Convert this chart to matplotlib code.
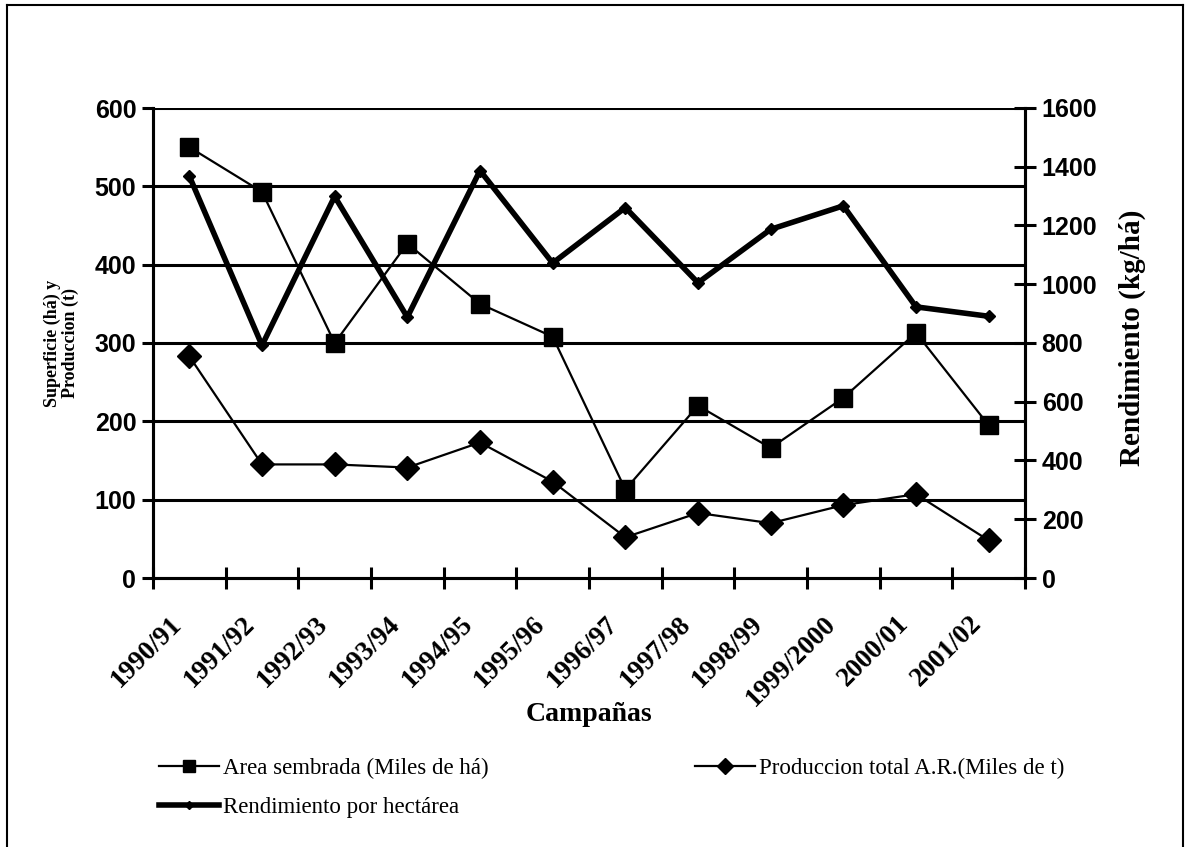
import matplotlib
matplotlib.use("Agg")
import matplotlib.pyplot as plt
from matplotlib.lines import Line2D
from matplotlib.transforms import ScaledTranslation

# campaigns and series
campanas = ["1990/91", "1991/92", "1992/93", "1993/94", "1994/95", "1995/96",
            "1996/97", "1997/98", "1998/99", "1999/2000", "2000/01", "2001/02"]
area = [550, 493, 300, 427, 350, 308, 113, 220, 166, 230, 313, 195]
produccion = [283, 145, 145, 141, 173, 123, 52, 83, 70, 93, 107, 48]
rendimiento = [1368, 792, 1299, 888, 1387, 1072, 1261, 1005, 1187, 1267, 923, 891]

left_ticks = [0, 100, 200, 300, 400, 500, 600]
right_ticks = [0, 200, 400, 600, 800, 1000, 1200, 1400, 1600]

sans = "Liberation Sans"
serif = "Liberation Serif"

fig = plt.figure(figsize=(11.86, 8.47), dpi=100)
ax = fig.add_axes([153/1186, 1-578/847, 872/1186, 470/847])
ax2 = ax.twinx()

x = list(range(len(campanas)))

# horizontal grid lines
for v in left_ticks[1:]:
    ax.axhline(v, color="black", lw=2.2, zorder=1)

l1, = ax.plot(x, area, color="black", lw=1.6, marker="s", markersize=13,
              markerfacecolor="black", zorder=3)
l2, = ax.plot(x, produccion, color="black", lw=1.6, marker="D", markersize=12,
              markerfacecolor="black", zorder=3)
l3, = ax2.plot(x, rendimiento, color="black", lw=4, marker="D", markersize=6,
               markerfacecolor="black", zorder=3)

ax.set_xlim(-0.5, len(campanas) - 0.5)
ax.set_ylim(0, 600)
ax2.set_ylim(0, 1600)

ax.set_xticks(x)
ax.set_xticklabels(campanas)
ax.tick_params(axis="x", length=0, pad=16)
ax.set_xticks([i - 0.5 for i in range(len(campanas) + 1)], minor=True)
ax.tick_params(axis="x", which="minor", direction="inout", length=16, width=2.2)

ax.set_yticks(left_ticks)
ax.tick_params(axis="y", direction="out", length=8, width=2.2, pad=4)
ax2.set_yticks(right_ticks)
ax2.tick_params(axis="y", direction="inout", length=16, width=2.2, pad=4)

for a in (ax, ax2):
    a.spines["top"].set_visible(False)
    for s in ("left", "right", "bottom"):
        a.spines[s].set_linewidth(2.2)

ax.set_xlabel("Campañas", fontfamily=serif, fontweight="bold", fontsize=20,
              labelpad=0)
ax.xaxis.set_label_coords(0.5, -0.264)
ax.set_ylabel("Superficie (há) y\nProduccion (t)", fontfamily=serif,
              fontweight="bold", fontsize=13, linespacing=1.05)
ax.yaxis.set_label_coords(-0.085, 0.5)
ax2.set_ylabel("Rendimiento (kg/há)", fontfamily=serif, fontweight="bold",
               fontsize=21)
ax2.yaxis.set_label_coords(1.107, 0.51)

# legend laid out row by row
fig.legend([l1, l3, l2],
           ["Area sembrada (Miles de há)", "Rendimiento por hectárea",
            "Produccion total A.R.(Miles de t)"],
           ncol=2, loc="upper left", bbox_to_anchor=(150/1186, 1-749/847),
           frameon=False, prop={"family": serif, "size": 16.5},
           handlelength=2.6, handletextpad=0.2, columnspacing=9.0,
           labelspacing=0.75, markerscale=0.7, borderaxespad=0)

# tick label fonts, set last so nothing resets them
shift = ScaledTranslation(-11/100, -20/100, fig.dpi_scale_trans)
for t in ax.get_xticklabels():
    t.set_fontfamily(serif)
    t.set_fontweight("bold")
    t.set_fontsize(19.5)
    t.set_rotation(45)
    t.set_ha("right")
    t.set_va("center")
    t.set_rotation_mode("anchor")
    t.set_transform(t.get_transform() + shift)
for t in ax.get_yticklabels() + ax2.get_yticklabels():
    t.set_fontfamily(sans)
    t.set_fontweight("bold")
    t.set_fontsize(18)

# outer frame
fig.add_artist(Line2D([7/1186, 7/1186], [0, 1-5/847], color="black", lw=1.5))
fig.add_artist(Line2D([7/1186, 1183/1186], [1-5/847, 1-5/847], color="black", lw=1.5))
fig.add_artist(Line2D([1183/1186, 1183/1186], [0, 1-5/847], color="black", lw=1.5))

fig.savefig("out.png", dpi=100)
